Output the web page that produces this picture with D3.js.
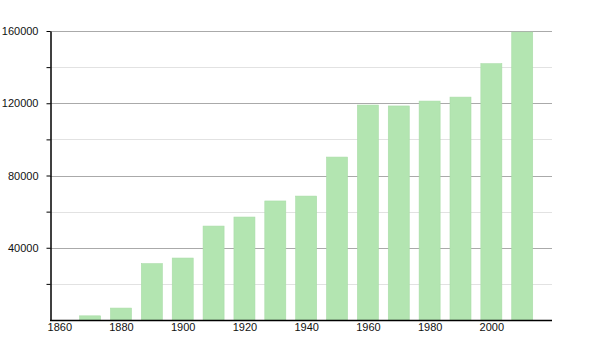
<!DOCTYPE html>
<html>
<head>
<meta charset="utf-8">
<script src="https://cdn.jsdelivr.net/npm/d3@7"></script>
<style>
  body { margin: 0; background: #fff; }
  text { font-family: "Liberation Sans", Arial, sans-serif; font-size: 11px; fill: #111; }
</style>
</head>
<body>
<div id="chart"></div>
<script>
// census years and population
var years = [1870, 1880, 1890, 1900, 1910, 1920, 1930, 1940, 1950, 1960, 1970, 1980, 1990, 2000, 2010]
var population = [2300, 6600, 31200, 34300, 52000, 57000, 65900, 68600, 90200, 119000, 118500, 121200, 123400, 141900, 159400]
var xTicks = [1860, 1880, 1900, 1920, 1940, 1960, 1980, 2000]
var yTicks = [40000, 80000, 120000, 160000]
var yMinor = [20000, 60000, 100000, 140000]

var width = 600
height = 350
margin = { top: 31, right: 50, bottom: 30, left: 50 }

var svg = d3.select("#chart")
    .append("svg")
    .attr("width", width)
    .attr("height", height)

var x = d3.scaleLinear()
    .domain([1857, 2019])
    .range([margin.left, width - margin.right])

var y = d3.scaleLinear()
    .domain([0, 160000])
    .range([height - margin.bottom, margin.top])

// minor grid lines
svg.selectAll(".minor")
    .data(yMinor)
    .enter()
    .append("line")
    .attr("x1", margin.left)
    .attr("x2", width - margin.right + 2)
    .attr("y1", function (d) { return Math.round(y(d)) + 0.5 })
    .attr("y2", function (d) { return Math.round(y(d)) + 0.5 })
    .attr("stroke", "#e2e2e2")

// major grid lines
svg.selectAll(".major")
    .data(yTicks)
    .enter()
    .append("line")
    .attr("x1", margin.left)
    .attr("x2", width - margin.right + 2)
    .attr("y1", function (d) { return Math.round(y(d)) + 0.5 })
    .attr("y2", function (d) { return Math.round(y(d)) + 0.5 })
    .attr("stroke", "#aaaaaa")

// bars
var barWidth = 21
svg.selectAll("rect")
    .data(years)
    .enter()
    .append("rect")
    .attr("x", function (d) { return x(d) - barWidth / 2 })
    .attr("y", function (d, i) { return y(population[i]) })
    .attr("width", barWidth)
    .attr("height", function (d, i) { return y(0) - y(population[i]) })
    .style("fill", "#b3e5b1")
    .style("stroke", "#a9dca7")
    .style("stroke-width", "0.6px")

// y axis
var yAxis = svg.append("g")
    .attr("transform", "translate(" + (margin.left + 0.5) + ",0)")
    .call(d3.axisLeft(y).tickValues(yTicks.concat(yMinor)).tickSize(4).tickSizeOuter(0)
        .tickFormat(function (d) { return yTicks.indexOf(d) >= 0 ? d : "" }))
yAxis.select(".domain").attr("stroke", "#000").attr("stroke-width", 1.5)
yAxis.selectAll(".tick line").attr("stroke", "#000")
yAxis.selectAll("text").attr("x", -12).style("font-size", "11px")

// x axis
var xAxis = svg.append("g")
    .attr("transform", "translate(0," + (height - margin.bottom + 0.5) + ")")
    .call(d3.axisBottom(x).tickValues(xTicks).tickSize(0).tickSizeOuter(0).tickFormat(d3.format("d")))
xAxis.select(".domain").attr("stroke", "#000").attr("stroke-width", 1.5)
    .attr("d", "M" + margin.left + ",0H" + (width - margin.right + 2))
xAxis.selectAll("text").attr("y", 3).style("font-size", "11px")
</script>
</body>
</html>
